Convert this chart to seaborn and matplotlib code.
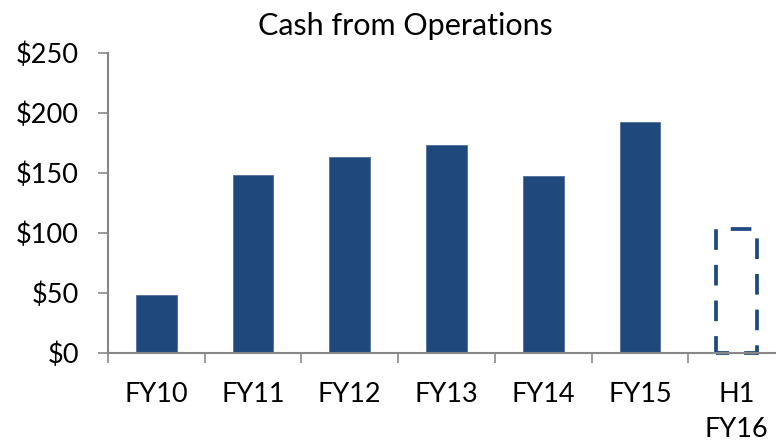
import numpy as np
import pandas as pd
import matplotlib
matplotlib.use("Agg")
import matplotlib.pyplot as plt
import seaborn as sns

# ---- data ----
categories = ["FY10", "FY11", "FY12", "FY13", "FY14", "FY15", "H1\nFY16"]
values = [48, 148, 163, 173, 147, 192, 103]
projected = [False, False, False, False, False, False, True]
y_ticks = [0, 50, 100, 150, 200, 250]
y_tick_labels = ["$0", "$50", "$100", "$150", "$200", "$250"]
title = "Cash from Operations"

BAR = "#1F497D"
SPINE = "#878787"

sns.set_theme(style="white")
plt.rcParams["font.family"] = ["Lato", "DejaVu Sans"]

df = pd.DataFrame({"cat": categories, "val": values})

fig = plt.figure(figsize=(7.76, 4.44), dpi=100)
ax = fig.add_axes([108 / 776, 1 - 352.5 / 444, (785 - 108) / 776, (352.5 - 52.7) / 444])

sns.barplot(data=df, x="cat", y="val", color=BAR, width=0.42, ax=ax,
            saturation=1, edgecolor="#4F6F9A", linewidth=0.6, errorbar=None)

for patch, proj in zip(ax.patches, projected):
    if proj:
        patch.set_fill(False)
        patch.set_edgecolor(BAR)
        patch.set_linewidth(2.7)
        patch.set_linestyle((2, (5.5, 4)))
        patch.set_clip_on(False)

ax.set_xlim(-0.5, len(categories) - 0.5)
ax.set_ylim(0, 250)

# x-axis: tick marks at category boundaries, labels at centres
ax.set_xticks(np.arange(len(categories)) - 0.5)
ax.set_xticklabels([])
ax.set_xticks(np.arange(len(categories)), minor=True)
ax.set_xticklabels(categories, minor=True, fontsize=19.5, color="black", linespacing=1.5)
ax.tick_params(axis="x", which="major", direction="out", length=7, width=1.2,
               color=SPINE, bottom=True)
ax.tick_params(axis="x", which="minor", length=0, pad=21)

ax.set_yticks(y_ticks)
ax.set_yticklabels(y_tick_labels, fontsize=19.5, color="black")
ax.tick_params(axis="y", direction="out", length=7, width=1.2, color=SPINE, left=True, pad=14)

ax.set_xlabel("")
ax.set_ylabel("")
for s in ["top", "right"]:
    ax.spines[s].set_visible(False)
for s in ["left", "bottom"]:
    ax.spines[s].set_color(SPINE)
    ax.spines[s].set_linewidth(1.5)

fig.text(405 / 776, 1 - 35 / 444, title, ha="center", va="baseline", fontsize=22, color="black")

fig.savefig("out.png", dpi=100)
